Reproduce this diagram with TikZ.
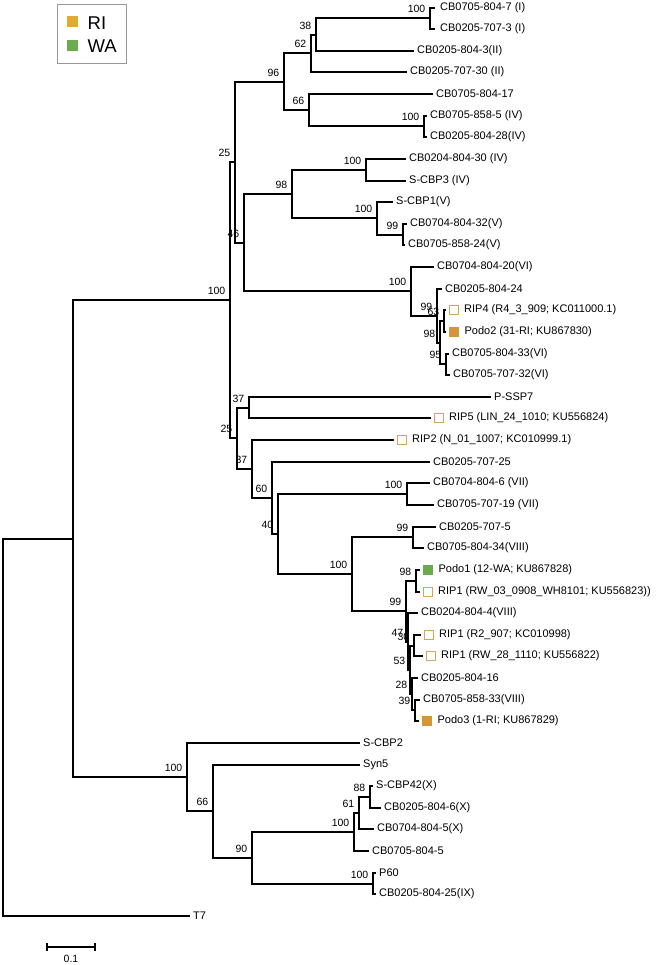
\documentclass[tikz,border=0pt]{standalone}
\usepackage{fontspec}
\setmainfont{Liberation Sans}
\definecolor{riC}{HTML}{E2A935}
\definecolor{waC}{HTML}{6BAA4F}
\definecolor{riD}{HTML}{D4963A}
\definecolor{hol}{HTML}{D9A35E}
\newcommand\tipL[4]{\coordinate (t#1) at (#2,#3); \node[lab] (L#1) at (t#1) {#4};}
\newcommand\tipS[5]{\coordinate (t#1) at (#2,#3); \node[#4, anchor=west, xshift=4pt] (S#1) at (t#1) {}; \node[lab] (L#1) at ([xshift=1pt]S#1.east) {#5};}
\newcommand\inode[4]{\coordinate (#1) at (#2,#3); \node[bs] (b#1) at (#1) {#4};}
\begin{document}
\begin{tikzpicture}[x=1pt,y=-1pt,
 br/.style={line width=2pt, black, line cap=rect},
 lab/.style={anchor=west, inner sep=1.5pt, font=\fontsize{11}{13}\selectfont, xshift=2.5pt},
 bs/.style={anchor=south east, inner sep=0pt, font=\fontsize{10.5}{12}\selectfont, xshift=-4.5pt, yshift=5.5pt},
 sqh/.style={draw=hol, line width=1pt, fill=white, minimum size=9pt, inner sep=0pt},
 sqr/.style={fill=riD, minimum size=10pt, inner sep=0pt},
 sqg/.style={fill=waC, minimum size=10pt, inner sep=0pt},
 legsq/.style={minimum size=11pt, inner sep=0pt},
 legtx/.style={anchor=west, inner sep=0pt, font=\fontsize{18.5}{20}\selectfont}
]
\useasboundingbox (0,0) rectangle (661,965);

% legend
\node[draw=gray!80, line width=1pt, minimum width=69pt, minimum height=59pt, inner sep=0pt] (legend) at (91.5,34.5) {};
\node[legsq, fill=riC] (legRI) at (72,22) {};
\node[legsq, fill=waC] (legWA) at (72,46) {};
\node[legtx] (txRI) at (87.5,22.7) {RI};
\node[legtx] (txWA) at (87.5,46.2) {WA};

% leaves
\tipL{1}{434}{8}{\hspace{2pt}CB0705-804-7 (I)}
\tipL{2}{434}{29}{\hspace{2pt}CB0205-707-3 (I)}
\tipL{3}{413}{51}{CB0205-804-3(II)}
\tipL{4}{406}{72}{CB0205-707-30 (II)}
\tipL{5}{432}{94}{CB0705-804-17}
\tipL{6}{426}{116}{CB0705-858-5 (IV)}
\tipL{7}{426}{137}{CB0205-804-28(IV)}
\tipL{8}{405}{159}{CB0204-804-30 (IV)}
\tipL{9}{405}{181}{S-CBP3 (IV)}
\tipL{10}{392}{202}{S-CBP1(V)}
\tipL{11}{406}{224}{CB0704-804-32(V)}
\tipL{12}{404}{245}{CB0705-858-24(V)}
\tipL{13}{433}{267}{CB0704-804-20(VI)}
\tipL{14}{441}{289}{CB0205-804-24}
\tipS{15}{445}{310}{sqh}{RIP4 (R4\_3\_909; KC011000.1)}
\tipS{16}{445}{332}{sqr}{Podo2 (31-RI; KU867830)}
\tipL{17}{448}{354}{CB0705-804-33(VI)}
\tipL{18}{449}{375}{CB0705-707-32(VI)}
\tipL{19}{490}{397}{P-SSP7}
\tipS{20}{430}{418}{sqh}{RIP5 (LIN\_24\_1010; KU556824)}
\tipS{21}{393}{440}{sqh}{RIP2 (N\_01\_1007; KC010999.1)}
\tipL{22}{429}{462}{CB0205-707-25}
\tipL{23}{429}{483}{CB0704-804-6 (VII)}
\tipL{24}{433}{505}{CB0705-707-19 (VII)}
\tipL{25}{435}{527}{CB0205-707-5}
\tipL{26}{423}{548}{CB0705-804-34(VIII)}
\tipS{27}{419}{570}{sqg}{Podo1 (12-WA; KU867828)}
\tipS{28}{419}{592}{sqh}{RIP1 (RW\_03\_0908\_WH8101; KU556823))}
\tipL{29}{417}{613}{CB0204-804-4(VIII)}
\tipS{30}{420}{635}{sqh}{RIP1 (R2\_907; KC010998)}
\tipS{31}{422}{656}{sqh}{RIP1 (RW\_28\_1110; KU556822)}
\tipL{32}{417}{678}{CB0205-804-16}
\tipL{33}{419}{700}{CB0705-858-33(VIII)}
\tipS{34}{418}{721}{sqr}{Podo3 (1-RI; KU867829)}
\tipL{35}{359}{743}{S-CBP2}
\tipL{36}{359}{765}{Syn5}
\tipL{37}{372}{786}{S-CBP42(X)}
\tipL{38}{380}{808}{CB0205-804-6(X)}
\tipL{39}{373}{829}{CB0704-804-5(X)}
\tipL{40}{368}{851}{CB0705-804-5}
\tipL{41}{375}{873}{P60}
\tipL{42}{375}{894}{CB0205-804-25(IX)}
\tipL{43}{189}{916}{T7}

% internal nodes
\coordinate (root) at (3,727);
\coordinate (n73) at (73,539);
\inode{n100top}{230}{300}{100}
\inode{n25a}{235}{162}{25}
\inode{n96}{284}{82}{96}
\inode{n62}{311}{53}{62}
\inode{n38}{316}{35}{38}
\inode{n12}{430}{18}{100}
\inode{n66}{309}{110}{66}
\inode{n67}{424}{126}{100}
\inode{n46}{244}{243}{46}
\inode{n98a}{292}{194}{98}
\inode{n89}{366}{170}{100}
\inode{n10}{377}{218}{100}
\inode{n1112}{403}{235}{99}
\inode{n100VI}{411}{291}{100}
\inode{n99b}{437}{316}{99}
\inode{n98b}{440}{343}{98}
\inode{n63}{444}{321}{63}
\inode{n95}{446}{364}{95}
\inode{n25b}{237}{438}{25}
\inode{n37a}{249}{408}{37}
\inode{n37b}{252}{469}{37}
\inode{n60}{272}{498}{60}
\inode{n40}{278}{534}{40}
\inode{nVII}{407}{494}{100}
\inode{n100big}{352}{574}{100}
\inode{n99c}{413}{537}{99}
\inode{n99d}{406}{611}{99}
\inode{n98c}{416}{581}{98}
\inode{n47}{408}{642}{47}
\inode{n53}{410}{670}{53}
\inode{n30}{414}{646}{30}
\inode{n28}{412}{694}{28}
\inode{n39}{415}{710}{39}
\inode{n100low}{187}{777}{100}
\inode{n66b}{213}{811}{66}
\inode{n90}{252}{858}{90}
\inode{n100X}{354}{832}{100}
\inode{n61}{359}{813}{61}
\inode{n88}{370}{797}{88}
\inode{n100P}{373}{884}{100}

% branches
\foreach \p/\c in {root/n73, root/t43, n73/n100top, n73/n100low,
  n100top/n25a, n100top/n25b, n25a/n96, n25a/n46,
  n96/n62, n96/n66, n62/n38, n62/t4, n38/n12, n38/t3, n12/t1, n12/t2,
  n66/t5, n66/n67, n67/t6, n67/t7,
  n46/n98a, n46/n100VI, n98a/n89, n98a/n10, n89/t8, n89/t9,
  n10/t10, n10/n1112, n1112/t11, n1112/t12,
  n100VI/t13, n100VI/n99b, n99b/t14, n99b/n98b, n98b/n63, n98b/n95,
  n63/t15, n63/t16, n95/t17, n95/t18,
  n25b/n37a, n25b/n37b, n37a/t19, n37a/t20, n37b/t21, n37b/n60,
  n60/t22, n60/n40, n40/nVII, n40/n100big, nVII/t23, nVII/t24,
  n100big/n99c, n100big/n99d, n99c/t25, n99c/t26,
  n99d/n98c, n99d/n47, n98c/t27, n98c/t28,
  n47/t29, n47/n53, n53/n30, n53/n28, n30/t30, n30/t31,
  n28/t32, n28/n39, n39/t33, n39/t34,
  n100low/t35, n100low/n66b, n66b/t36, n66b/n90,
  n90/n100X, n90/n100P, n100X/n61, n100X/t40, n61/n88, n61/t39,
  n88/t37, n88/t38, n100P/t41, n100P/t42}
  {\draw[br] (\p) |- (\c);}

% scale bar
\coordinate (sbL) at (47,947);
\coordinate (sbR) at (95,947);
\draw[line width=2pt] (sbL) -- (sbR);
\draw[line width=2pt] ([yshift=4pt]sbL) -- ([yshift=-4pt]sbL);
\draw[line width=2pt] ([yshift=4pt]sbR) -- ([yshift=-4pt]sbR);
\node[font=\fontsize{10.5}{12}\selectfont, inner sep=0pt] (sbT) at (71,958.5) {0.1};
\end{tikzpicture}
\end{document}
